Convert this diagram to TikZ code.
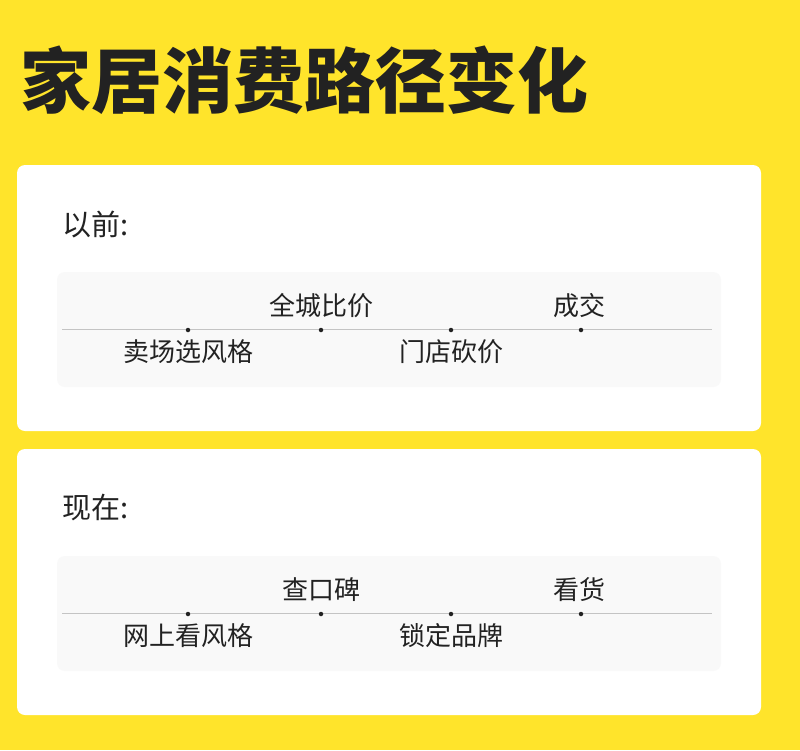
\documentclass[tikz,border=0pt]{standalone}
\usepackage{fontspec}
\newfontfamily\cjk{Noto Sans CJK SC}
\definecolor{bgyellow}{HTML}{FFE42B}
\definecolor{panelgray}{HTML}{F9F9F9}
\definecolor{linegray}{HTML}{C4C4C4}
\definecolor{ink}{HTML}{222222}
\tikzset{
  card/.style={fill=white, rounded corners=8pt},
  panel/.style={fill=panelgray, rounded corners=8pt},
  tline/.style={draw=linegray, line width=1pt},
  tdot/.style={circle, fill=ink, inner sep=0pt, minimum size=4.5pt},
  lbl/.style={inner sep=0pt, font=\cjk\fontsize{26}{29}\selectfont, text=ink},
  head/.style={inner sep=0pt, anchor=west, font=\cjk\fontsize{29}{33}\selectfont, text=ink},
  ttl/.style={inner sep=0pt, anchor=west, font=\cjk\bfseries\fontsize{71}{80}\selectfont, text=ink}
}
\begin{document}
\begin{tikzpicture}[x=1pt,y=-1pt]
\useasboundingbox (0,0) rectangle (800,750);
\fill[bgyellow] (0,0) rectangle (800,750);
\node[ttl] (title) at (20,80) {家居消费路径变化};

% card 1
\fill[card] (17,165) rectangle (761,431);
\node[head] (h1) at (62,224) {以前:};
\fill[panel] (57,272) rectangle (721,387);
\coordinate (l1s) at (62,329);
\coordinate (l1e) at (712,329);
\draw[tline] (l1s) -- (l1e);
\node[tdot] (a1) at (188,330) {};
\node[tdot] (a2) at (321,330) {};
\node[tdot] (a3) at (451,330) {};
\node[tdot] (a4) at (581,330) {};
\node[lbl] (t1) at (188,352) {卖场选风格};
\node[lbl] (t2) at (321,306) {全城比价};
\node[lbl] (t3) at (451,352) {门店砍价};
\node[lbl] (t4) at (579,306) {成交};

% card 2
\fill[card] (17,449) rectangle (761,715);
\node[head] (h2) at (62,508) {现在:};
\fill[panel] (57,556) rectangle (721,671);
\coordinate (l2s) at (62,613);
\coordinate (l2e) at (712,613);
\draw[tline] (l2s) -- (l2e);
\node[tdot] (b1) at (188,614) {};
\node[tdot] (b2) at (321,614) {};
\node[tdot] (b3) at (451,614) {};
\node[tdot] (b4) at (581,614) {};
\node[lbl] (s1) at (188,636) {网上看风格};
\node[lbl] (s2) at (321,590) {查口碑};
\node[lbl] (s3) at (451,636) {锁定品牌};
\node[lbl] (s4) at (579,590) {看货};
\end{tikzpicture}
\end{document}
